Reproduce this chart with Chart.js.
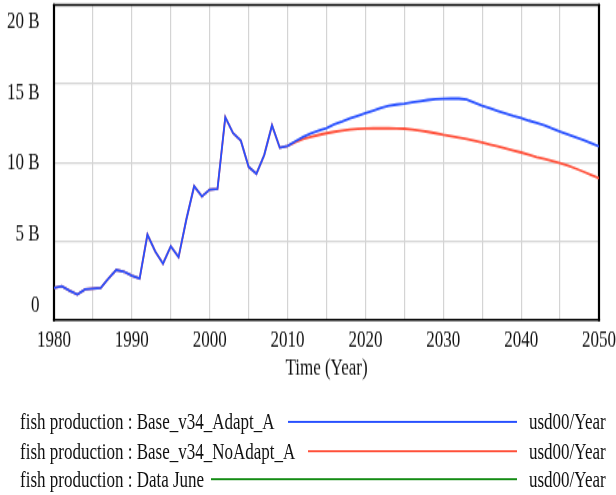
<!DOCTYPE html>
<html>
<head>
<meta charset="utf-8">
<script src="https://cdn.jsdelivr.net/npm/chart.js@4/dist/chart.umd.min.js"></script>
<style>
  html, body { margin: 0; padding: 0; background: #fff; overflow: hidden; width: 616px; height: 495px; }
  /* The whole figure is drawn in a 616x354 box and stretched vertically (tall Vensim-style type). */
  #stage { position: absolute; left: 0; top: 0; width: 616px; height: 354px; transform: scaleY(1.3983); transform-origin: 0 0; }
  #stage canvas { position: absolute; left: 0; top: 0; }
  .txt { position: absolute; height: 20px; font: 17px "Liberation Serif", "Times New Roman", serif;
         line-height: 20px; color: #111; white-space: nowrap; }
  .key { position: absolute; height: 1px; transform: scaleY(1.43); transform-origin: 0 0; }
</style>
</head>
<body>
<div id="stage">
  <canvas id="chart" width="616" height="354"></canvas>
  <div id="legend"></div>
</div>
<script>
// fish production, billions of usd00/Year
const firstYear = 1980;
const lastYear = 2050;

// shared history, 1980–2010
const history = [2.04, 2.15, 1.87, 1.63, 1.95, 2.0, 2.04, 2.64, 3.18, 3.07,
                 2.81, 2.64, 5.43, 4.36, 3.58, 4.68, 3.99, 6.39, 8.5, 7.85,
                 8.28, 8.33, 12.88, 11.87, 11.39, 9.72, 9.29, 10.47, 12.36, 10.94,
                 11.05];

// scenario runs, 2011–2050
const adaptRun = [11.35, 11.62, 11.85, 12.02, 12.18, 12.42, 12.6, 12.8, 12.97, 13.14,
                  13.3, 13.47, 13.6, 13.68, 13.73, 13.82, 13.9, 13.97, 14.02, 14.05,
                  14.06, 14.06, 14.0, 13.8, 13.6, 13.45, 13.28, 13.12, 12.96, 12.82,
                  12.66, 12.52, 12.35, 12.17, 11.97, 11.78, 11.6, 11.42, 11.22, 11.02];
const noAdaptRun = [11.3, 11.5, 11.62, 11.75, 11.86, 11.95, 12.02, 12.1, 12.14, 12.16,
                    12.17, 12.17, 12.17, 12.16, 12.15, 12.1, 12.03, 11.95, 11.86, 11.76,
                    11.68, 11.59, 11.5, 11.39, 11.27, 11.15, 11.03, 10.9, 10.77, 10.64,
                    10.5, 10.35, 10.22, 10.09, 9.96, 9.8, 9.62, 9.42, 9.21, 9.0];
const dataJune = [];

const seriesNames = [
  'fish production : Base_v34_Adapt_A',
  'fish production : Base_v34_NoAdapt_A',
  'fish production : Data June'
];
const unitLabel = 'usd00/Year';
const xTitle = 'Time (Year)';
const yTickValues = [0, 5, 10, 15, 20];
const yTickLabels = ['0', '5 B', '10 B', '15 B', '20 B'];
const xLabelledYears = [1980, 1990, 2000, 2010, 2020, 2030, 2040, 2050];

const colors = ['rgb(40,80,255)', 'rgb(255,80,58)', 'rgb(20,140,20)'];
const FONT = { family: '"Liberation Serif", "Times New Roman", serif', size: 17 };
const INK = '#111';

function toPoints(values, startYear) {
  return values.map((v, i) => ({ x: startYear + i, y: v }));
}
const adaptSeries = toPoints(history.concat(adaptRun), firstYear);
const noAdaptSeries = toPoints(history.concat(noAdaptRun), firstYear);
const dataSeries = toPoints(dataJune, firstYear);

// plot frame: heavy black box round the chart area
const framePlugin = {
  id: 'frame',
  beforeDatasetsDraw(chart) {
    const { ctx, chartArea: a } = chart;
    ctx.save();
    ctx.strokeStyle = '#000';
    ctx.lineWidth = 2.2;
    ctx.beginPath();
    ctx.moveTo(a.left, a.top - 0.8); ctx.lineTo(a.left, a.bottom + 0.8);
    ctx.moveTo(a.right, a.top - 0.8); ctx.lineTo(a.right, a.bottom + 0.8);
    ctx.stroke();
    ctx.lineWidth = 1.5;
    ctx.beginPath();
    ctx.moveTo(a.left - 1.1, a.top); ctx.lineTo(a.right + 1.1, a.top);
    ctx.moveTo(a.left - 1.1, a.bottom); ctx.lineTo(a.right + 1.1, a.bottom);
    ctx.stroke();
    ctx.restore();
  }
};

const gridColor = 'rgb(212,212,212)';

new Chart(document.getElementById('chart'), {
  type: 'line',
  data: {
    datasets: [
      { label: seriesNames[0], data: adaptSeries, borderColor: colors[0], borderWidth: 1.8, pointRadius: 0, tension: 0, yAxisID: 'y' },
      { label: seriesNames[1], data: noAdaptSeries, borderColor: colors[1], borderWidth: 1.8, pointRadius: 0, tension: 0, yAxisID: 'y' },
      { label: seriesNames[2], data: dataSeries, borderColor: colors[2], borderWidth: 1.8, pointRadius: 0, tension: 0, yAxisID: 'y' }
    ]
  },
  options: {
    responsive: false,
    animation: false,
    devicePixelRatio: 1,
    layout: { padding: { top: 3.58, right: 17, bottom: 80.6, left: 0 } },
    plugins: { legend: { display: false }, tooltip: { enabled: false } },
    scales: {
      x: {
        type: 'linear',
        min: firstYear,
        max: lastYear,
        grid: { color: gridColor, lineWidth: 1.2, drawTicks: false },
        border: { display: false },
        ticks: {
          stepSize: 5,
          autoSkip: false,
          maxRotation: 0,
          padding: 4.85,
          color: INK,
          font: FONT,
          callback: (v) => (xLabelledYears.includes(v) ? String(v) : '')
        },
        title: { display: true, text: xTitle, color: INK, font: FONT, padding: 0 },
        afterFit(scale) { scale.height = 44.55; scale.paddingLeft = 0; scale.paddingRight = 0; }
      },
      y: {
        type: 'linear',
        position: 'left',
        weight: 0,
        min: 0,
        max: 20,
        grid: { color: gridColor, lineWidth: 1.2, drawTicks: false },
        border: { display: false },
        ticks: { stepSize: 5, display: false },
        afterFit(scale) { scale.width = 0; scale.paddingTop = 0; scale.paddingBottom = 0; }
      },
      // label axis: Vensim spreads its value labels slightly inside the gridline span
      yLabels: {
        type: 'linear',
        position: 'left',
        weight: 1,
        min: -1.062,
        max: 21.197,
        grid: { display: false, drawTicks: false },
        border: { display: false },
        ticks: {
          padding: 14.5,
          color: INK,
          font: FONT,
          callback: (v) => yTickLabels[yTickValues.indexOf(v)]
        },
        afterBuildTicks(scale) { scale.ticks = yTickValues.map(v => ({ value: v })); },
        afterFit(scale) { scale.width = 54; scale.paddingTop = 0; scale.paddingBottom = 0; }
      }
    }
  },
  plugins: [framePlugin]
});

// legend rows beneath the plot: name, key line, unit
const legend = document.getElementById('legend');
const rowTops = [291.8, 312.5, 333.3];
const keyTops = [301, 322, 342];
const rowGaps = [13, 13, 7];
const keyEnd = 516.7;
const unitLeft = 529;
seriesNames.forEach((name, i) => {
  const n = document.createElement('span');
  n.className = 'txt';
  n.style.left = '20px';
  n.style.top = rowTops[i] + 'px';
  n.textContent = name;
  legend.appendChild(n);

  const keyLeft = 20 + n.getBoundingClientRect().width + rowGaps[i];
  const k = document.createElement('div');
  k.className = 'key';
  k.style.left = keyLeft + 'px';
  k.style.width = (keyEnd - keyLeft) + 'px';
  k.style.top = keyTops[i] + 'px';
  k.style.background = colors[i];
  legend.appendChild(k);

  const u = document.createElement('span');
  u.className = 'txt';
  u.style.left = unitLeft + 'px';
  u.style.top = rowTops[i] + 'px';
  u.textContent = unitLabel;
  legend.appendChild(u);
});
</script>
</body>
</html>
